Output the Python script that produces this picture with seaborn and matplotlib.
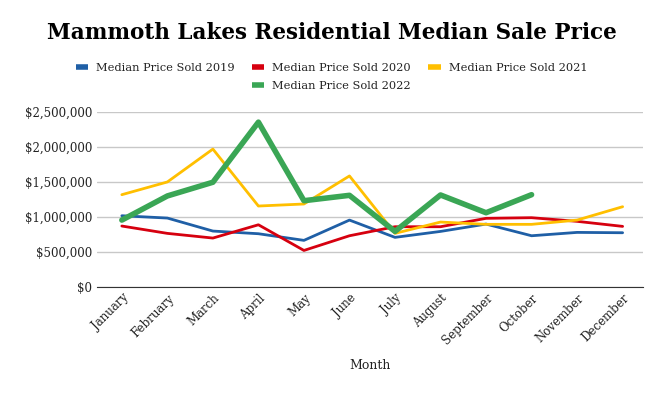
import pandas as pd
import numpy as np
import matplotlib.pyplot as plt
import seaborn as sns
from matplotlib.lines import Line2D
from matplotlib.ticker import FuncFormatter

# data
months = ['January', 'February', 'March', 'April', 'May', 'June', 'July',
          'August', 'September', 'October', 'November', 'December']
price_2019 = [1017000, 984000, 798000, 760000, 665000, 955000, 708000,
              793000, 898000, 731000, 779000, 774000]
price_2020 = [870000, 765000, 698000, 888000, 521000, 731000, 860000,
              860000, 980000, 989000, 937000, 865000]
price_2021 = [1318000, 1500000, 1970000, 1156000, 1185000, 1586000, 765000,
              927000, 894000, 894000, 955000, 1146000]
price_2022 = [955000, 1300000, 1496000, 2355000, 1232000, 1309000, 793000,
              1314000, 1060000, 1318000, np.nan, np.nan]

series = {
    'Median Price Sold 2019': price_2019,
    'Median Price Sold 2020': price_2020,
    'Median Price Sold 2021': price_2021,
    'Median Price Sold 2022': price_2022,
}
colors = ['#1f5fa6', '#d6000f', '#ffbf00', '#3aa655']
widths = [2, 2, 2, 4]

df = pd.DataFrame({'Month': months, **series})
long_df = df.melt(id_vars='Month', var_name='Series', value_name='Price')

sns.set_style('white')
plt.rcParams['font.family'] = ['DejaVu Serif']

fig = plt.figure(figsize=(6.63, 3.93), dpi=100)
ax = fig.add_axes([0.146, 0.270, 0.824, 0.445])

for (name, col), lw in zip(zip(series.keys(), colors), widths):
    sub = long_df[long_df['Series'] == name]
    sns.lineplot(data=sub, x='Month', y='Price', color=col, linewidth=lw,
                 label=name, ax=ax, sort=False)

ax.set_ylim(0, 2500000)
ax.set_yticks(np.arange(0, 2500001, 500000))
ax.yaxis.set_major_formatter(FuncFormatter(lambda v, p: f'${v:,.0f}'))
ax.set_xlim(-0.55, 11.45)
ax.grid(axis='y', color='#c8c8c8', linewidth=1)
ax.grid(axis='x', visible=False)
for s in ['left', 'right', 'top']:
    ax.spines[s].set_visible(False)
ax.spines['bottom'].set_color('#333333')
ax.tick_params(axis='both', length=0, labelsize=8.5, colors='#222222')
plt.setp(ax.get_xticklabels(), rotation=45, ha='right', rotation_mode='anchor')
ax.set_xlabel('Month', fontsize=9, labelpad=8, color='#222222')
ax.set_ylabel('')

# legend: 3 on the first row, 2022 under 2020 (column-major filling)
handles, labels = ax.get_legend_handles_labels()
blank = Line2D([], [], color='none')
order_h = [handles[0], blank, handles[1], handles[3], handles[2], blank]
order_l = [labels[0], '', labels[1], labels[3], labels[2], '']
leg = ax.legend(order_h, order_l, loc='center', bbox_to_anchor=(0.5, 0.804),
                bbox_transform=fig.transFigure, ncol=3, frameon=False,
                fontsize=8.2, handlelength=1.1, handletextpad=0.7,
                columnspacing=1.5, labelspacing=0.75)
for h in leg.get_lines():
    h.set_linewidth(4)
    h.set_solid_capstyle('butt')
for t in leg.get_texts():
    t.set_color('#222222')

fig.suptitle('Mammoth Lakes Residential Median Sale Price', x=0.5, y=0.945,
             fontsize=15.5, fontweight='bold', color='black')

fig.savefig('out.png', dpi=100)
